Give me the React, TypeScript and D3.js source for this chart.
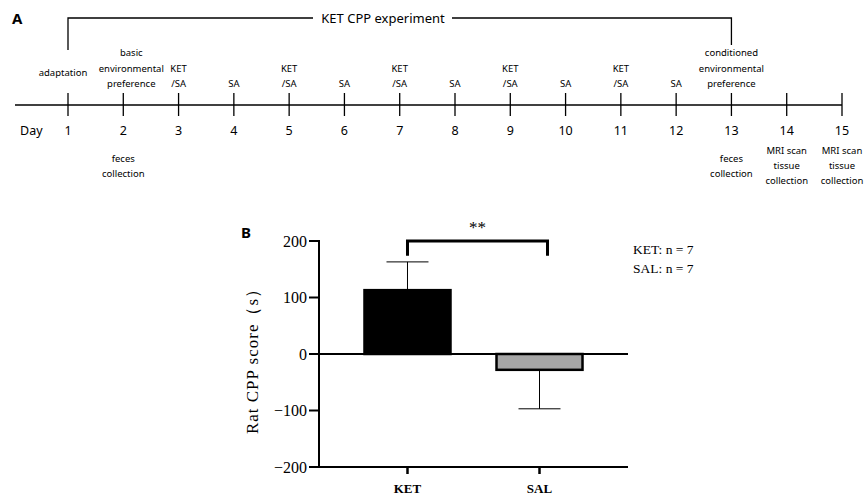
import React from "react";
import * as d3 from "d3";

// ---- panel A: timeline ----
const days = [1, 2, 3, 4, 5, 6, 7, 8, 9, 10, 11, 12, 13, 14, 15];
const topLabels = [
  ["adaptation"],
  ["basic", "environmental", "preference"],
  ["KET", "/SA"],
  ["SA"],
  ["KET", "/SA"],
  ["SA"],
  ["KET", "/SA"],
  ["SA"],
  ["KET", "/SA"],
  ["SA"],
  ["KET", "/SA"],
  ["SA"],
  ["conditioned", "environmental", "preference"],
  [],
  [],
];
const bottomLabels = [
  [],
  ["feces", "collection"],
  [], [], [], [], [], [], [], [], [], [],
  ["feces", "collection"],
  ["MRI scan", "tissue", "collection"],
  ["MRI scan", "tissue", "collection"],
];
const experimentStart = 1;
const experimentEnd = 13;

// ---- panel B: bar chart ----
const groups = ["KET", "SAL"];
const means = [113, -28];
const sems = [50, 69];
const groupColors = ["#000000", "#a6a6a6"];
const yTicks = [-200, -100, 0, 100, 200];
const nLabels = ["KET: n = 7", "SAL: n = 7"];

const sans = "'Noto Sans', 'Noto Sans CJK SC', sans-serif";
const serif = "'Liberation Serif', 'Times New Roman', serif";

const App = () => {
  const W = 865;
  const H = 496;

  // timeline scale
  const xDay = d3.scaleLinear().domain([1, 15]).range([68, 842]);
  const lineY = 105;
  const labelDx: Record<number, number> = { 1: -5, 2: 8 };

  // bar chart scales
  const x = d3
    .scaleBand<string>()
    .domain(groups)
    .range([319, 628])
    .paddingInner(1 / 3)
    .paddingOuter(0.337);
  const y = d3.scaleLinear().domain([-200, 200]).range([467, 241]);
  const bw = x.bandwidth();
  const cx = (g: string) => (x(g) as number) + bw / 2;

  const brTop = y(200);
  const brLeg = y(174);

  return (
    <svg
      width={W}
      height={H}
      style={{ position: "absolute", left: 0, top: 0, background: "#fff" }}
    >
      {/* ===== Panel A ===== */}
      <text x={12} y={24} fontFamily={sans} fontWeight="bold" fontSize={15}>
        A
      </text>
      {/* experiment bracket */}
      <path
        d={`M${xDay(experimentStart)},50V18H313`}
        fill="none"
        stroke="#000"
        strokeWidth={1.3}
      />
      <path
        d={`M452,18H${xDay(experimentEnd)}V45`}
        fill="none"
        stroke="#000"
        strokeWidth={1.3}
      />
      <text
        x={383}
        y={23}
        textAnchor="middle"
        fontFamily={sans}
        fontSize={13}
      >
        KET CPP experiment
      </text>

      {/* main line */}
      <line x1={15} x2={xDay(15)} y1={lineY} y2={lineY} stroke="#000" strokeWidth={1.3} />
      <text x={20} y={135} fontFamily={sans} fontSize={12.5}>
        Day
      </text>
      {days.map((d, i) => {
        const px = xDay(d);
        const tl = topLabels[i];
        const bl = bottomLabels[i];
        const dx = labelDx[d] || 0;
        const lastBase = d === 1 ? 76 : 87;
        const bStart = 165 - ((bl.length - 1) * 15) / 2 + 4;
        return (
          <g key={d}>
            <line x1={px} x2={px} y1={93} y2={116} stroke="#000" strokeWidth={1.3} />
            <text
              x={px}
              y={135}
              textAnchor="middle"
              fontFamily={sans}
              fontSize={12.5}
            >
              {d}
            </text>
            {tl.map((t, j) => (
              <text
                key={j}
                x={px + dx}
                y={lastBase - (tl.length - 1 - j) * 15.5}
                textAnchor="middle"
                fontFamily={sans}
                fontSize={9.5}
              >
                {t}
              </text>
            ))}
            {bl.map((t, j) => (
              <text
                key={j}
                x={px}
                y={bStart + j * 15}
                textAnchor="middle"
                fontFamily={sans}
                fontSize={9.5}
              >
                {t}
              </text>
            ))}
          </g>
        );
      })}

      {/* ===== Panel B ===== */}
      <text x={241} y={238} fontFamily={sans} fontWeight="bold" fontSize={15}>
        B
      </text>

      {/* y axis */}
      <line x1={319} x2={319} y1={y(200) - 1} y2={y(-200) + 1} stroke="#000" strokeWidth={2} />
      {yTicks.map((t) => (
        <g key={t}>
          <line x1={309} x2={319} y1={y(t)} y2={y(t)} stroke="#000" strokeWidth={2} />
          <text
            x={307}
            y={y(t)}
            dy="0.35em"
            textAnchor="end"
            fontFamily={serif}
            fontSize={16}
          >
            {t < 0 ? `\u2212${Math.abs(t)}` : t}
          </text>
        </g>
      ))}
      <text
        transform={`translate(258,${(y(200) + y(-200)) / 2 + 3}) rotate(-90)`}
        textAnchor="middle"
        fontFamily={serif}
        fontSize={17}
        letterSpacing={1}
      >
        Rat CPP score（s）
      </text>

      {/* error bars */}
      {groups.map((g, i) => {
        const end = means[i] >= 0 ? means[i] + sems[i] : means[i] - sems[i];
        return (
          <g key={g}>
            <line x1={cx(g)} x2={cx(g)} y1={y(means[i])} y2={y(end)} stroke="#000" strokeWidth={1} />
            <line x1={cx(g) - 21} x2={cx(g) + 21} y1={y(end)} y2={y(end)} stroke="#000" strokeWidth={1} />
          </g>
        );
      })}

      {/* bars */}
      {groups.map((g, i) => (
        <rect
          key={g}
          x={(x(g) as number) + 1}
          width={bw - 2}
          y={Math.min(y(means[i]), y(0))}
          height={Math.abs(y(means[i]) - y(0))}
          fill={groupColors[i]}
          stroke="#000"
          strokeWidth={2.5}
        />
      ))}

      {/* zero line and bottom axis */}
      <line x1={319} x2={628} y1={y(0)} y2={y(0)} stroke="#000" strokeWidth={2} />
      <line x1={318} x2={628} y1={y(-200)} y2={y(-200)} stroke="#000" strokeWidth={2} />
      {groups.map((g) => (
        <g key={g}>
          <line x1={cx(g)} x2={cx(g)} y1={y(-200)} y2={y(-200) + 7} stroke="#000" strokeWidth={2.5} />
          <text
            x={cx(g)}
            y={y(-200) + 26}
            textAnchor="middle"
            fontFamily={serif}
            fontWeight="bold"
            fontSize={13}
          >
            {g}
          </text>
        </g>
      ))}

      {/* significance bracket */}
      <path
        d={`M${cx("KET")},${brLeg}V${brTop}H${cx("SAL") + 8}V${brLeg}`}
        fill="none"
        stroke="#000"
        strokeWidth={3}
      />
      <text
        x={(cx("KET") + cx("SAL") + 8) / 2}
        y={233}
        textAnchor="middle"
        fontFamily={serif}
        fontSize={17}
      >
        **
      </text>

      {/* n labels */}
      {nLabels.map((t, i) => (
        <text key={t} x={633} y={254 + i * 19} fontFamily={serif} fontSize={13.5}>
          {t}
        </text>
      ))}
    </svg>
  );
};

export default App;
